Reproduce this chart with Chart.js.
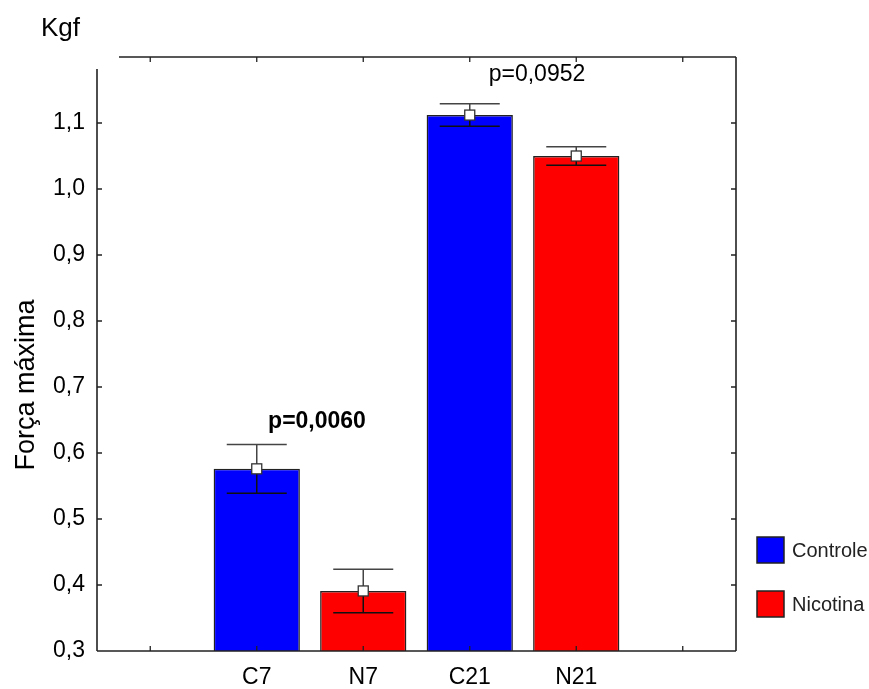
<!DOCTYPE html>
<html>
<head>
<meta charset="utf-8">
<script src="https://cdn.jsdelivr.net/npm/chart.js@4.4.1/dist/chart.umd.min.js"></script>
<style>
  html, body { margin: 0; padding: 0; background: #fff; }
  #wrap { width: 869px; height: 689px; position: relative; }
</style>
</head>
<body>
<div id="wrap"><canvas id="c" width="869" height="689"></canvas></div>
<script>
// Groups along the x axis (empty slots at both ends keep the bars centred)
const categories = ['', 'C7', 'N7', 'C21', 'N21', ''];

// Mean maximum force (Kgf) per group
const controle = [null, 0.576, null, 1.112, null, null];
const nicotina = [null, null, 0.391, null, 1.050, null];

// Error (± half-length of the whiskers)
const controleErr = [null, 0.037, null, 0.017, null, null];
const nicotinaErr = [null, null, 0.033, null, 0.014, null];

// Y axis
const yMin = 0.3;
const yMax = 1.2;
const yStep = 0.1;
const yTitle = 'Força máxima';
const yUnit = 'Kgf';

// Significance notes: text, the two groups they sit between, height in Kgf
const pTexts = ['p=0,0060', 'p=0,0952'];
const pGroups = [[1, 2], [3, 4]];
const pHeights = [0.647, 1.173];
const pBold = [true, false];

const FONT = '"Liberation Sans", Arial, Helvetica, sans-serif';
const INK = '#222';

// Whiskers with a white square marker at the mean
const errorBars = {
  id: 'errorBars',
  afterDatasetsDraw(chart) {
    const ctx = chart.ctx;
    const y = chart.scales.y;
    const errs = [controleErr, nicotinaErr];
    chart.data.datasets.forEach((ds, di) => {
      const meta = chart.getDatasetMeta(di);
      ds.data.forEach((v, i) => {
        if (v == null) return;
        const x = meta.data[i].x;
        const e = errs[di][i];
        const yTop = y.getPixelForValue(v + e);
        const yBot = y.getPixelForValue(v - e);
        const yMid = y.getPixelForValue(v);
        const half = 30;
        ctx.save();
        ctx.lineWidth = 1.5;
        ctx.strokeStyle = '#444';
        ctx.beginPath();
        ctx.moveTo(x, yTop); ctx.lineTo(x, yMid);
        ctx.moveTo(x - half, yTop); ctx.lineTo(x + half, yTop);
        ctx.stroke();
        ctx.strokeStyle = '#111';
        ctx.beginPath();
        ctx.moveTo(x, yMid); ctx.lineTo(x, yBot);
        ctx.moveTo(x - half, yBot); ctx.lineTo(x + half, yBot);
        ctx.stroke();
        ctx.fillStyle = '#fff';
        ctx.fillRect(x - 5, yMid - 5, 10, 10);
        ctx.strokeStyle = '#333';
        ctx.lineWidth = 1.3;
        ctx.strokeRect(x - 5, yMid - 5, 10, 10);
        ctx.restore();
      });
    });
  }
};

// Plot frame with inward tick marks
const frame = {
  id: 'frame',
  afterDatasetsDraw(chart) {
    const ctx = chart.ctx;
    const a = chart.chartArea;
    const xs = chart.scales.x;
    const ys = chart.scales.y;
    const t = 5;
    ctx.save();
    ctx.strokeStyle = INK;
    ctx.lineWidth = 1.6;
    ctx.beginPath();
    // left axis (starts a little below the top edge)
    ctx.moveTo(a.left, a.top + 12); ctx.lineTo(a.left, a.bottom);
    // bottom
    ctx.moveTo(a.left, a.bottom); ctx.lineTo(a.right, a.bottom);
    // right
    ctx.moveTo(a.right, a.bottom); ctx.lineTo(a.right, a.top);
    // top (starts right of the left axis)
    ctx.moveTo(a.right, a.top); ctx.lineTo(a.left + 22, a.top);
    ctx.stroke();
    ctx.lineWidth = 1.3;
    ctx.beginPath();
    ys.ticks.forEach(tk => {
      const py = ys.getPixelForValue(tk.value);
      if (py <= a.top + 12 || py >= a.bottom - 1) return;
      ctx.moveTo(a.left, py); ctx.lineTo(a.left + t, py);
      ctx.moveTo(a.right, py); ctx.lineTo(a.right - t, py);
    });
    categories.forEach((c, i) => {
      const px = xs.getPixelForValue(i);
      ctx.moveTo(px, a.bottom); ctx.lineTo(px, a.bottom - t);
      ctx.moveTo(px, a.top); ctx.lineTo(px, a.top + t);
    });
    ctx.stroke();
    ctx.restore();
  }
};

// Axis title, unit label, p-values and legend
const texts = {
  id: 'texts',
  afterDraw(chart) {
    const ctx = chart.ctx;
    const xs = chart.scales.x;
    const ys = chart.scales.y;
    ctx.save();
    ctx.fillStyle = '#000';
    ctx.textBaseline = 'middle';
    ctx.textAlign = 'left';
    ctx.font = '26px ' + FONT;
    ctx.fillText(yUnit, 41, 29);

    ctx.save();
    ctx.translate(27, 385);
    ctx.rotate(-Math.PI / 2);
    ctx.textAlign = 'center';
    ctx.font = '27px ' + FONT;
    ctx.fillText(yTitle, 0, 0);
    ctx.restore();

    ctx.textAlign = 'center';
    pTexts.forEach((s, k) => {
      const [g1, g2] = pGroups[k];
      const px = (xs.getPixelForValue(g1) + xs.getPixelForValue(g2)) / 2 + (pBold[k] ? 7 : 14);
      const py = ys.getPixelForValue(pHeights[k]);
      ctx.font = (pBold[k] ? 'bold ' : '') + '23px ' + FONT;
      ctx.fillText(s, px, py);
    });

    // legend
    const boxX = 757, boxW = 27, boxH = 26;
    const boxY = [537, 591];
    chart.data.datasets.forEach((ds, i) => {
      ctx.fillStyle = ds.backgroundColor;
      ctx.fillRect(boxX, boxY[i], boxW, boxH);
      ctx.strokeStyle = INK;
      ctx.lineWidth = 1.5;
      ctx.strokeRect(boxX, boxY[i], boxW, boxH);
      ctx.fillStyle = '#222';
      ctx.textAlign = 'left';
      ctx.font = '20px ' + FONT;
      ctx.fillText(ds.label, 792, boxY[i] + boxH / 2 + 1);
    });
    ctx.restore();
  }
};

new Chart(document.getElementById('c'), {
  type: 'bar',
  data: {
    labels: categories,
    datasets: [
      { label: 'Controle', data: controle, backgroundColor: '#0000ff', borderColor: INK, borderWidth: 1.5 },
      { label: 'Nicotina', data: nicotina, backgroundColor: '#ff0000', borderColor: INK, borderWidth: 1.5 }
    ]
  },
  options: {
    responsive: false,
    animation: false,
    devicePixelRatio: 1,
    skipNull: true,
    datasets: { bar: { barPercentage: 0.81, categoryPercentage: 1.0 } },
    layout: { padding: { top: 57, right: 133, left: 0, bottom: 0 } },
    plugins: { legend: { display: false }, tooltip: { enabled: false } },
    scales: {
      x: {
        grid: { display: false, drawTicks: false },
        border: { display: false },
        ticks: { color: '#000', font: { family: FONT, size: 23 }, padding: 13, maxRotation: 0 },
        afterFit(s) { s.height = 38; }
      },
      y: {
        min: yMin,
        max: yMax,
        grid: { display: false, drawTicks: false },
        border: { display: false },
        ticks: {
          stepSize: yStep,
          color: '#000',
          font: { family: FONT, size: 23 },
          padding: 12,
          callback(v) {
            const r = Math.round(v * 10) / 10;
            if (r >= yMax - 1e-9) return '';
            return r.toFixed(1).replace('.', ',');
          }
        },
        afterFit(s) { s.width = 97; }
      }
    }
  },
  plugins: [errorBars, frame, texts]
});
</script>
</body>
</html>
